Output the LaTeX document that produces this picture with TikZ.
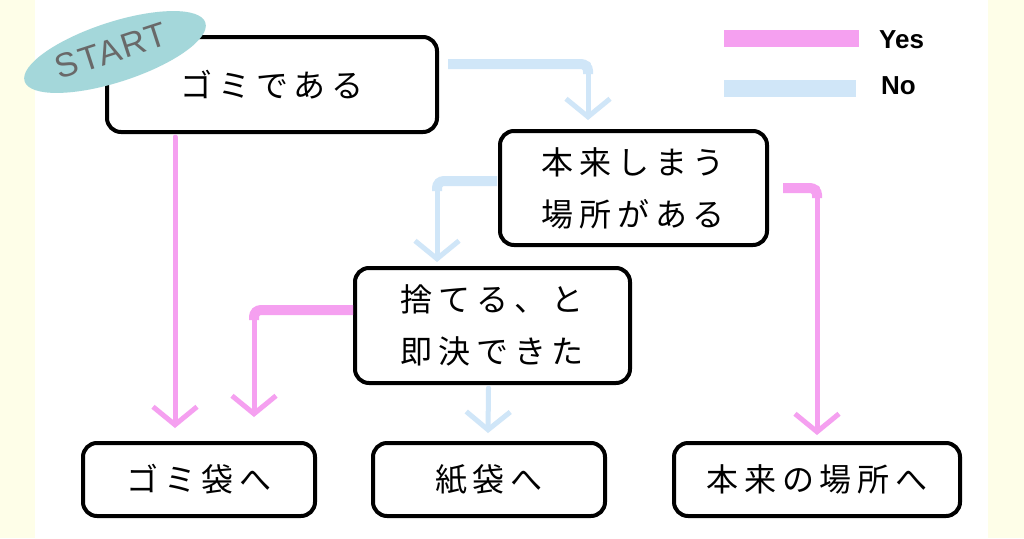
\documentclass[tikz,border=0pt]{standalone}
\usepackage{fontspec}
\setmainfont{Liberation Sans}
\newfontfamily\jpfont[LetterSpace=18]{Noto Sans CJK JP}
\newfontfamily\legfont{Liberation Sans}
\newfontfamily\startfont[LetterSpace=5]{Liberation Sans}
\usetikzlibrary{arrows.meta,shapes.geometric,calc}
\definecolor{pinkc}{RGB}{245,160,240}
\definecolor{bluec}{RGB}{208,230,248}
\definecolor{startc}{RGB}{164,215,218}
\definecolor{bgy}{RGB}{254,254,232}
\definecolor{startt}{RGB}{105,105,105}
\tikzset{
  box/.style={draw=black, line width=4pt, rounded corners=14pt, fill=white,
    inner sep=0pt, outer sep=0pt, align=center,
    font=\jpfont\fontsize{32}{52}\selectfont},
  yesthick/.style={draw=pinkc, line width=10pt, rounded corners=7pt},
  nothick/.style={draw=bluec, line width=10pt, rounded corners=7pt},
  tipstyle/.style={-{Straight Barb[length=18pt,width=44pt]}, line cap=round},
  yesline/.style={draw=pinkc, line width=5pt, tipstyle},
  noline/.style={draw=bluec, line width=5pt, tipstyle},
  legtext/.style={anchor=west, inner sep=0pt, font=\legfont\bfseries\fontsize{26}{26}\selectfont}
}
\begin{document}
\begin{tikzpicture}[x=1pt,y=-1pt]
\useasboundingbox (0,0) rectangle (1024,538);
\fill[bgy] (0,0) rectangle (1024,538);
\fill[white] (35,0) rectangle (988,538);

% boxes
\node[box, minimum width=330pt, minimum height=95pt] (b1) at (272,84.5) {ゴミである};
\node[box, minimum width=267pt, minimum height=114pt] (b2) at (633.5,188) {本来しまう\\場所がある};
\node[box, minimum width=275pt, minimum height=115pt] (b3) at (492.5,325.5) {捨てる、と\\即決できた};
\node[box, minimum width=232pt, minimum height=73pt] (b4) at (199,479.5) {ゴミ袋へ};
\node[box, minimum width=232pt, minimum height=73pt] (b5) at (489,479.5) {紙袋へ};
\node[box, minimum width=286pt, minimum height=73pt] (b6) at (817,479.5) {本来の場所へ};

% START badge
\fill[startc, rotate around={18:(115,52)}] (115,52) ellipse [x radius=95pt, y radius=30pt];
\node[rotate=18, inner sep=0pt, text=startt, font=\startfont\fontsize{34}{34}\selectfont] (start) at (111,51) {START};

% connectors
\coordinate (c1) at (588,64);
\draw[nothick] ($(b1.east)+(11,-20.5)$) -| ($(c1)+(0,10)$);
\draw[noline] (c1) -- ($(c1 |- b2.north)+(0,-11)$);

\draw[yesline] ($(b1.south west)+(68,5)$) -- ($(b4.north west)+(92,-15)$);

\coordinate (c3) at (437,181);
\draw[nothick] ($(b2.west)+(-3,-7)$) -| ($(c3)+(0,10)$);
\draw[noline] (c3) -- ($(c3 |- b3.north)+(0,-6)$);

\coordinate (c4) at (817,188);
\draw[yesthick] ($(b2.east)+(16,0)$) -| ($(c4)+(0,10)$);
\draw[yesline] (c4) -- ($(c4 |- b6.north)+(0,-8)$);

\coordinate (c5) at (254,310);
\draw[yesthick] ($(b3.west)+(-2,-15.5)$) -| ($(c5)+(0,10)$);
\draw[yesline] (c5) -- ($(c5 |- b4.north)+(0,-26)$);

\draw[noline] ($(b3.south)+(-4,5)$) -- ($(b5.north)+(-1,-10)$);

% legend
\draw[pinkc, line width=17pt] (724,38.5) coordinate (ly1) -- (859,38.5) coordinate (ly2);
\draw[bluec, line width=17pt] (724,88.5) coordinate (ln1) -- (856,88.5) coordinate (ln2);
\node[legtext] (yes) at (879,40) {Yes};
\node[legtext] (no) at (881,86) {No};
\end{tikzpicture}
\end{document}
